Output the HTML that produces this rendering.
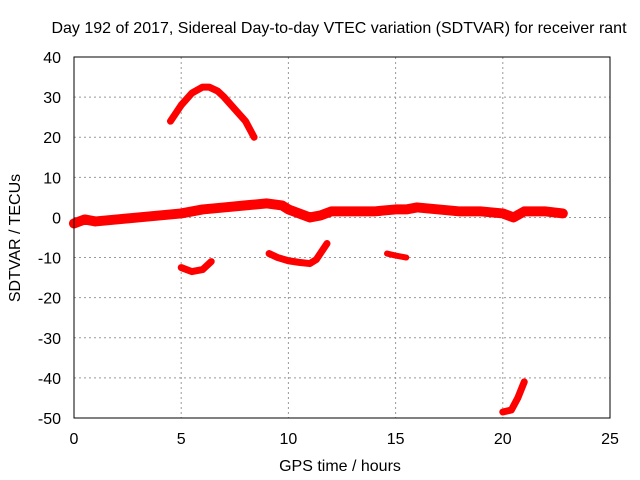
<!DOCTYPE html>
<html><head><meta charset="utf-8"><style>
body{margin:0;background:#fff}
svg{display:block;font-family:"Liberation Sans",sans-serif}
</style></head><body>
<svg id="chart" width="640" height="480">
<rect width="640" height="480" fill="#fff"/>
<text x="339" y="33" text-anchor="middle" font-size="16">Day 192 of 2017, Sidereal Day-to-day VTEC variation (SDTVAR) for receiver rant</text>
<text x="340" y="471" text-anchor="middle" font-size="16">GPS time / hours</text>
<text transform="translate(20,238) rotate(-90)" text-anchor="middle" font-size="16">SDTVAR / TECUs</text>
<g id="grid"></g><g id="ticks"></g><g id="series"></g>
<rect x="74" y="57" width="536" height="361" fill="none" stroke="#000"/>
</svg>
<script>
const xTicks=[0,5,10,15,20,25];
const yTicks=[40,30,20,10,0,-10,-20,-30,-40,-50];
const mainBand=[[0,-1.5],[0.5,-0.5],[1,-1],[2,-0.5],[3,0],[4,0.5],[5,1],[6,2],[7,2.5],[8,3],[9,3.5],[9.7,3],[10,2],[10.5,1],[11,0],[11.5,0.5],[12,1.5],[13,1.5],[14,1.5],[15,2],[15.5,2],[16,2.5],[17,2],[18,1.5],[19,1.5],[20,1],[20.5,0],[21,1.5],[22,1.5],[22.8,1]];
const arcHigh=[[4.5,24],[5,28],[5.5,31],[6,32.5],[6.3,32.5],[6.7,31.5],[7,30],[7.5,27],[8,24],[8.4,20]];
const lowA=[[5,-12.5],[5.5,-13.5],[6,-13],[6.4,-11]];
const lowB=[[9.1,-9],[9.5,-10],[10,-10.8],[10.5,-11.2],[11,-11.5],[11.3,-10.5],[11.8,-6.5]];
const lowC=[[14.6,-9],[15,-9.5],[15.5,-10]];
const lowD=[[20,-48.5],[20.4,-48],[20.7,-45],[21,-41]];
const NS="http://www.w3.org/2000/svg";
const X=t=>74+t*536/25, Y=v=>57+(40-v)*361/90;
const grid=document.getElementById('grid'),ticks=document.getElementById('ticks'),ser=document.getElementById('series');
function mk(tag,at,p){const e=document.createElementNS(NS,tag);for(const k in at)e.setAttribute(k,at[k]);p.appendChild(e);return e;}
xTicks.forEach(t=>{
 const l=mk('line',{x1:X(t),x2:X(t),y1:57,y2:418,stroke:'#999','stroke-dasharray':'2,3'},grid);
 
 
 const tx=mk('text',{x:X(t),y:444,'text-anchor':'middle','font-size':'16'},ticks);tx.textContent=t;
 
 
});
yTicks.forEach(v=>{
 const l=mk('line',{x1:74,x2:610,y1:Y(v),y2:Y(v),stroke:'#999','stroke-dasharray':'2,3'},grid);
 
 
 const tx=mk('text',{x:61,y:Y(v)+6,'text-anchor':'end','font-size':'16'},ticks);tx.textContent=v;
 
 
});
function draw(d,w,name){
 const p=mk('polyline',{points:d.map(q=>X(q[0])+','+Y(q[1])).join(' '),fill:'none',stroke:'#ff0000','stroke-width':w,'stroke-linejoin':'round','stroke-linecap':'round'},ser);
 
 
}
draw(mainBand,10,'series-main-band');
draw(arcHigh,7,'series-arc-high');
draw(lowA,7,'series-low-a');
draw(lowB,7,'series-low-b');
draw(lowC,6,'series-low-c');
draw(lowD,7,'series-low-d');
</script>
</body></html>
